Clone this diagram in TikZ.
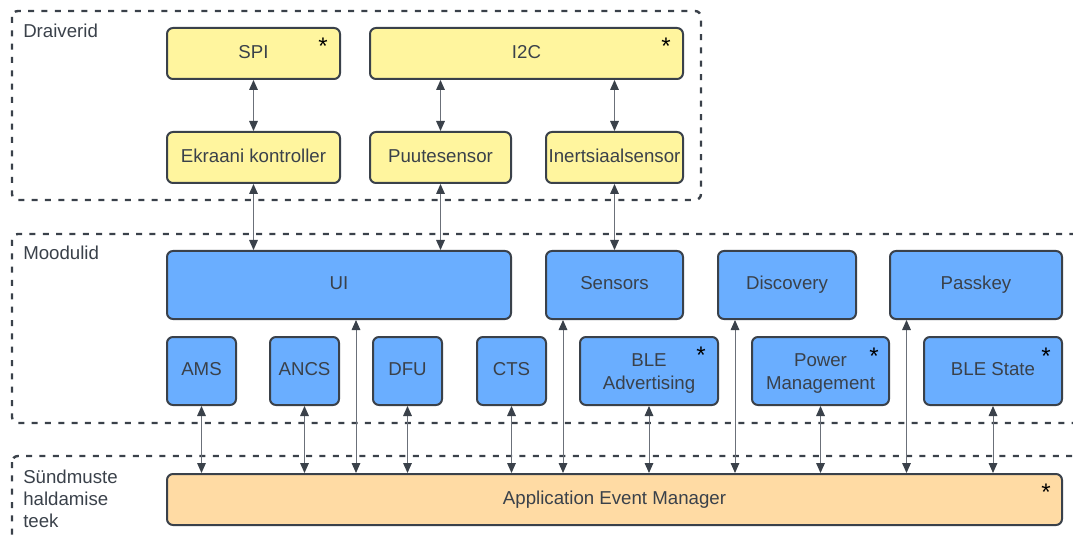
\documentclass[tikz,border=0pt]{standalone}
\usepackage{fontspec}
\setmainfont{Liberation Sans}
\usetikzlibrary{arrows.meta,calc}

\definecolor{ink}{HTML}{3A414A}
\definecolor{wire}{HTML}{6B7079}
\definecolor{drvfill}{HTML}{FFF59E}
\definecolor{modfill}{HTML}{6AAEFF}
\definecolor{libfill}{HTML}{FFDBA4}

\tikzset{
  x=0.75pt, y=-0.75pt,
  txt/.style={font=\fontsize{14}{17.25}\selectfont, text=ink},
  boxsize/.style 2 args={minimum width=#1*0.75pt, minimum height=#2*0.75pt},
  box/.style={txt, draw=ink, line width=1.5pt, rounded corners=4.5pt,
    inner sep=0pt, align=center, text height=10pt, text depth=3pt},
  twolines/.style={text height=30pt, text depth=3pt},
  drv/.style={box, fill=drvfill},
  mod/.style={box, fill=modfill},
  lib/.style={box, fill=libfill},
  group/.style={draw=ink, line width=1.8pt, rounded corners=4.5pt,
    dash pattern=on 4.5pt off 5.5pt},
  grouplabel/.style={txt, anchor=west, align=left, inner sep=0pt,
    font=\fontsize{14}{16.5}\selectfont},
  starmark/.style={font=\fontsize{18}{18}\selectfont, text=black,
    anchor=base, inner sep=0pt},
  link/.style={draw=wire, line width=0.75pt,
    {Triangle[length=7.5pt,width=6.5pt,color=ink]}-{Triangle[length=7.5pt,width=6.5pt,color=ink]}},
}

\begin{document}
\begin{tikzpicture}
\useasboundingbox (0,0) rectangle (1073,541);
\clip (0,0) rectangle (1073,541);

% layer frames
\draw[group] (12,11) rectangle (701,200);
\draw[group] (12,234) rectangle (1095,423);
\draw[group] (12,456) rectangle (1095,570);

\node[grouplabel] (lbldrv) at (23,31) {Draiverid};
\node[grouplabel] (lblmod) at (23,253) {Moodulid};
\node[grouplabel] (lbllib) at (23,499) {Sündmuste\\haldamise\\teek};

% drivers
\node[drv, boxsize={173}{51}] (spi) at (253.5,53.5) {SPI};
\node[drv, boxsize={313}{51}] (i2c) at (526.5,53.5) {I2C};
\node[drv, boxsize={173}{51}] (ekr) at (253.5,157.5) {Ekraani kontroller};
\node[drv, boxsize={141}{51}] (puu) at (440.5,157.5) {Puutesensor};
\node[drv, boxsize={137}{51}] (ine) at (614.5,157.5) {Inertsiaalsensor};

% modules
\node[mod, boxsize={344}{68}] (ui)  at (339,285)   {UI};
\node[mod, boxsize={137}{68}] (sen) at (614.5,285) {Sensors};
\node[mod, boxsize={138}{68}] (dis) at (787,285)   {Discovery};
\node[mod, boxsize={172}{68}] (pas) at (976,285)   {Passkey};
\node[mod, boxsize={69}{68}]  (ams)  at (201.5,371) {AMS};
\node[mod, boxsize={69}{68}]  (ancs) at (304.5,371) {ANCS};
\node[mod, boxsize={69}{68}]  (dfu)  at (407.5,371) {DFU};
\node[mod, boxsize={69}{68}]  (cts)  at (511.5,371) {CTS};
\node[mod, twolines, boxsize={138}{68}] (adv) at (649,371)   {BLE\\Advertising};
\node[mod, twolines, boxsize={137}{68}] (pwr) at (820.5,371) {Power\\Management};
\node[mod, boxsize={138}{68}] (sta)  at (993,371)   {BLE State};

% event library
\node[lib, boxsize={895}{51}] (aem) at (614.5,499.5) {Application Event Manager};

% asterisks
\node[starmark] (spistar) at ($(spi.north east)+(-18,27.5)$) {*};
\node[starmark] (i2cstar) at ($(i2c.north east)+(-18,27.5)$) {*};
\node[starmark] (advstar) at ($(adv.north east)+(-18,27.5)$) {*};
\node[starmark] (pwrstar) at ($(pwr.north east)+(-16,28.5)$) {*};
\node[starmark] (stastar) at ($(sta.north east)+(-17,28.5)$) {*};
\node[starmark] (aemstar) at ($(aem.north east)+(-17,27.5)$) {*};

% lanes between neighbouring small modules
\coordinate (lane1) at ($(ancs.east)!0.5!(dfu.west)$);
\coordinate (lane2) at ($(cts.east)!0.5!(adv.west)$);
\coordinate (lane3) at ($(adv.east)!0.5!(pwr.west)$);
\coordinate (lane4) at ($(pwr.east)!0.5!(sta.west)$);

% driver links
\draw[link] (spi) -- (ekr);
\draw[link] (i2c.south -| puu) -- (puu);
\draw[link] (i2c.south -| ine) -- (ine);
\draw[link] (ekr) -- (ekr |- ui.north);
\draw[link] (puu) -- (puu |- ui.north);
\draw[link] (ine) -- (sen);

% module links to the event manager
\draw[link] (ams) -- (ams |- aem.north);
\draw[link] (ancs) -- (ancs |- aem.north);
\draw[link] (lane1 |- ui.south) -- (lane1 |- aem.north);
\draw[link] (dfu) -- (dfu |- aem.north);
\draw[link] (cts) -- (cts |- aem.north);
\draw[link] (lane2 |- sen.south) -- (lane2 |- aem.north);
\draw[link] (adv) -- (adv |- aem.north);
\draw[link] (lane3 |- dis.south) -- (lane3 |- aem.north);
\draw[link] (pwr) -- (pwr |- aem.north);
\draw[link] (lane4 |- pas.south) -- (lane4 |- aem.north);
\draw[link] (sta) -- (sta |- aem.north);
\end{tikzpicture}
\end{document}
